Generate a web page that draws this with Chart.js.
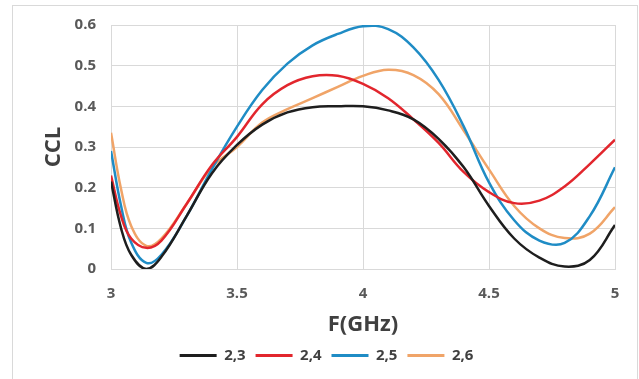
<!DOCTYPE html>
<html>
<head>
<meta charset="utf-8">
<script src="https://cdn.jsdelivr.net/npm/chart.js@4"></script>
<style>
  html, body { margin: 0; padding: 0; background: #fff; }
  #frame { position: absolute; left: 12px; top: 5px; width: 624px; height: 380px; border: 1px solid #d9d9d9; }
  #wrap { position: absolute; left: 0; top: 0; width: 639px; height: 379px; }
</style>
</head>
<body>
<div id="frame"></div>
<div id="wrap"><canvas id="myChart" width="639" height="379"></canvas></div>
<script>
// frequency points (GHz)
var freqs = [3, 3.04, 3.08, 3.14, 3.2, 3.3, 3.4, 3.5, 3.6, 3.7, 3.8, 3.9,
             4.0, 4.1, 4.2, 4.3, 4.4, 4.5, 4.6, 4.7, 4.8, 4.9, 5.0];

// CCL curves
var ccl23 = [0.215, 0.10, 0.035, 0.0, 0.03, 0.13, 0.235, 0.305, 0.355, 0.385, 0.398, 0.40,
             0.40, 0.39, 0.368, 0.32, 0.25, 0.155, 0.075, 0.028, 0.006, 0.022, 0.108];
var ccl24 = [0.23, 0.13, 0.075, 0.052, 0.07, 0.16, 0.255, 0.325, 0.405, 0.452, 0.474, 0.475,
             0.455, 0.42, 0.368, 0.31, 0.238, 0.189, 0.162, 0.168, 0.203, 0.258, 0.318];
var ccl25 = [0.29, 0.155, 0.065, 0.015, 0.035, 0.13, 0.245, 0.35, 0.44, 0.505, 0.55, 0.578,
             0.597, 0.59, 0.545, 0.465, 0.35, 0.213, 0.12, 0.07, 0.064, 0.13, 0.25];
var ccl26 = [0.335, 0.196, 0.106, 0.057, 0.075, 0.16, 0.25, 0.30, 0.36, 0.393, 0.42, 0.448,
             0.475, 0.49, 0.477, 0.43, 0.34, 0.245, 0.155, 0.10, 0.076, 0.087, 0.152];

var seriesNames = ["2,3", "2,4", "2,5", "2,6"];
var seriesColors = ["#1e1e1e", "#e2262d", "#1f8cc5", "#f0a468"];
var yTickLabels = ["0", "0.1", "0.2", "0.3", "0.4", "0.5", "0.6"];
var xTickLabels = { 3: "3", 3.5: "3.5", 4: "4", 4.5: "4.5", 5: "5" };

var allSeries = [ccl23, ccl24, ccl25, ccl26];

var datasets = allSeries.map(function(s, k) {
  return {
    label: seriesNames[k],
    data: freqs.map(function(f, i) { return { x: f, y: s[i] }; }),
    borderColor: seriesColors[k],
    backgroundColor: seriesColors[k],
    borderWidth: 2.5,
    pointRadius: 0,
    tension: 0.4,
    fill: false
  };
});

var tickFont = { family: "'Open Sans', sans-serif", size: 15, weight: 'bold' };
var titleFont = { family: "'Open Sans', sans-serif", size: 22, weight: 'bold' };

// nudge the legend a little to the right, like the original
var shiftLegend = {
  id: 'shiftLegend',
  afterLayout: function(c) {
    c.legend.left += 13;
    c.legend.right += 13;
  }
};

var chart = new Chart(document.getElementById('myChart'), {
  type: 'line',
  data: { datasets: datasets },
  plugins: [shiftLegend],
  options: {
    responsive: false,
    animation: false,
    layout: { padding: { left: 12, right: 24, top: 25, bottom: 6 } },
    plugins: {
      tooltip: { enabled: false },
      legend: {
        position: 'bottom',
        labels: {
          font: tickFont,
          color: '#404040',
          boxWidth: 37,
          boxHeight: 3,
          padding: 10,
          generateLabels: function(c) {
            return Chart.defaults.plugins.legend.labels.generateLabels(c).map(function(l) {
              l.lineWidth = 0;
              return l;
            });
          }
        }
      }
    },
    scales: {
      x: {
        type: 'linear',
        min: 3, max: 5,
        grid: { color: '#d9d9d9', drawTicks: false },
        border: { color: '#d9d9d9' },
        ticks: {
          stepSize: 0.5, padding: 16, font: tickFont, color: '#595959', maxRotation: 0,
          callback: function(v) { return xTickLabels[v]; }
        },
        title: { display: true, text: 'F(GHz)', font: titleFont, color: '#404040', padding: 0 },
        afterFit: function(scale) { scale.height = 69; }
      },
      y: {
        min: 0, max: 0.6,
        grid: { color: '#d9d9d9', drawTicks: false },
        border: { color: '#d9d9d9' },
        ticks: {
          stepSize: 0.1, padding: 15, font: tickFont, color: '#595959',
          callback: function(v, i) { return yTickLabels[i]; }
        },
        title: { display: true, text: 'CCL', font: titleFont, color: '#404040', padding: { top: 29, bottom: 0 } },
        afterFit: function(scale) { scale.width = 99; }
      }
    }
  }
});
</script>
</body>
</html>
